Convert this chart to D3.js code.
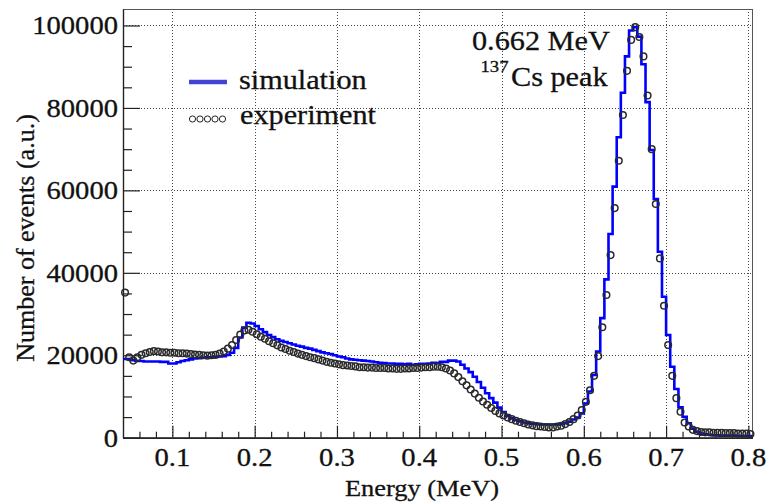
<!DOCTYPE html>
<html><head><meta charset="utf-8">
<script src="https://cdn.jsdelivr.net/npm/d3@7"></script>
<style>body{margin:0;background:#fff} svg{display:block}</style>
</head><body>
<svg id="c" width="769" height="504"></svg>
<script>
// Bin centres (MeV), bin width 0.005 MeV
const energy = [
0.0425,0.0475,0.0525,0.0575,0.0625,0.0675,0.0725,0.0775,0.0825,0.0875,
0.0925,0.0975,0.1025,0.1075,0.1125,0.1175,0.1225,0.1275,0.1325,0.1375,
0.1425,0.1475,0.1525,0.1575,0.1625,0.1675,0.1725,0.1775,0.1825,0.1875,
0.1925,0.1975,0.2025,0.2075,0.2125,0.2175,0.2225,0.2275,0.2325,0.2375,
0.2425,0.2475,0.2525,0.2575,0.2625,0.2675,0.2725,0.2775,0.2825,0.2875,
0.2925,0.2975,0.3025,0.3075,0.3125,0.3175,0.3225,0.3275,0.3325,0.3375,
0.3425,0.3475,0.3525,0.3575,0.3625,0.3675,0.3725,0.3775,0.3825,0.3875,
0.3925,0.3975,0.4025,0.4075,0.4125,0.4175,0.4225,0.4275,0.4325,0.4375,
0.4425,0.4475,0.4525,0.4575,0.4625,0.4675,0.4725,0.4775,0.4825,0.4875,
0.4925,0.4975,0.5025,0.5075,0.5125,0.5175,0.5225,0.5275,0.5325,0.5375,
0.5425,0.5475,0.5525,0.5575,0.5625,0.5675,0.5725,0.5775,0.5825,0.5875,
0.5925,0.5975,0.6025,0.6075,0.6125,0.6175,0.6225,0.6275,0.6325,0.6375,
0.6425,0.6475,0.6525,0.6575,0.6625,0.6675,0.6725,0.6775,0.6825,0.6875,
0.6925,0.6975,0.7025,0.7075,0.7125,0.7175,0.7225,0.7275,0.7325,0.7375,
0.7425,0.7475,0.7525,0.7575,0.7625,0.7675,0.7725,0.7775,0.7825,0.7875,
0.7925,0.7975,0.8025];
const binWidth = 0.005;

const simulation = [
19100,19100,18800,18600,18600,18500,18500,18500,18500,18400,
18400,18000,18000,18300,18600,18800,19000,19200,19300,19400,
19500,19500,19600,19700,19800,20100,20600,21800,24300,26700,
27900,27700,27100,26300,25600,24900,24400,23900,23500,23200,
22900,22600,22300,22100,21800,21600,21300,21000,20700,20500,
20300,20000,19700,19500,19200,19000,18900,18800,18700,18600,
18500,18300,18200,18100,18000,18000,17900,17900,17800,17900,
17700,17800,17900,17900,18000,18200,18100,18400,18400,18700,
18700,18500,17700,16800,15900,14800,13500,12100,10800,9600,
8500,7300,6200,5300,4700,4300,4000,3700,3500,3400,
3300,3200,3200,3200,3200,3200,3300,3500,3900,4400,
4900,5900,8300,11200,15200,20900,29000,38400,49400,60900,
72900,83700,92500,98800,99600,97300,90600,81400,69800,57900,
45100,34200,24900,17200,11800,7400,5100,3500,2200,1400,
1000,800,700,600,600,500,500,500,500,400,
400,400,400];

const experiment = [
35200,19500,18700,19500,20100,20500,20800,21000,20900,20700,
20700,20600,20600,20500,20500,20400,20300,20200,20100,20000,
19900,20000,20100,20400,20900,21600,22500,23700,25000,26000,
26200,25700,25100,24500,24000,23400,22900,22400,21900,21500,
21100,20800,20400,20100,19800,19500,19300,19000,18700,18400,
18200,18000,17800,17600,17500,17400,17300,17100,17100,17000,
17000,16900,16900,16900,16800,16800,16700,16700,16800,16800,
16900,16900,17000,17100,17100,17200,17200,17100,16800,16300,
15600,14700,13700,12700,11700,10700,9700,8800,8000,7200,
6500,5900,5400,4900,4500,4100,3800,3500,3200,3000,
2800,2700,2600,2500,2500,2700,2900,3300,3800,4500,
5400,6700,8700,11500,15000,19800,26800,34600,44300,55700,
67200,78300,89000,96500,99600,97200,92500,83000,70000,56700,
43500,32000,22500,15000,9600,6300,3700,2700,1900,1600,
1400,1300,1300,1200,1200,1200,1100,1100,1100,1000,
1000,1000,900];

const xTicks = [0.1,0.2,0.3,0.4,0.5,0.6,0.7,0.8];
const xTickLabels = ["0.1","0.2","0.3","0.4","0.5","0.6","0.7","0.8"];
const yTicks = [0,20000,40000,60000,80000,100000];
const yTickLabels = ["0","20000","40000","60000","80000","100000"];
const seriesNames = ["simulation","experiment"];
const xTitle = "Energy (MeV)";
const yTitle = "Number of events (a.u.)";
const noteLine1 = "0.662 MeV";
const noteIsotope = "137";
const noteLine2 = "Cs peak";

const svg = d3.select("#c");
const L = 123, R = 752.5, T = 9, B = 437.7;
const x = d3.scaleLinear().domain([0.04, 0.805]).range([L, R]);
const y = d3.scaleLinear().domain([0, 104000]).range([B, T]);
const FONT = "'Liberation Serif','Times New Roman',serif";
const SX = 1.1;

// grid
const grid = svg.append("g").attr("stroke","#444").attr("stroke-width",1).attr("stroke-dasharray","1,2");
xTicks.forEach(t => grid.append("line").attr("x1",Math.round(x(t))+0.5).attr("x2",Math.round(x(t))+0.5).attr("y1",T).attr("y2",B));
yTicks.filter(t=>t>0).forEach(t => grid.append("line").attr("y1",Math.round(y(t))+0.5).attr("y2",Math.round(y(t))+0.5).attr("x1",L).attr("x2",R));

// frame
svg.append("rect").attr("x",L+0.5).attr("y",T+0.5).attr("width",R-L-0.5).attr("height",B-T)
  .attr("fill","none").attr("stroke","#555").attr("stroke-width",1);

// axes with d3
const xMinor = d3.range(0.06, 0.805, 0.02).filter(v => !xTicks.some(t=>Math.abs(t-v)<1e-6));
const yMinor = d3.range(5000, 104000, 5000).filter(v => v % 20000 !== 0);
const axX = d3.axisBottom(x).tickValues(xTicks).tickFormat("").tickSizeInner(-12).tickSizeOuter(0);
const axXm = d3.axisBottom(x).tickValues(xMinor).tickFormat("").tickSizeInner(-6).tickSizeOuter(0);
const axY = d3.axisLeft(y).tickValues(yTicks).tickFormat("").tickSizeInner(-17).tickSizeOuter(0);
const axYm = d3.axisLeft(y).tickValues(yMinor).tickFormat("").tickSizeInner(-9).tickSizeOuter(0);
[[axX,`translate(0,${B})`],[axXm,`translate(0,${B})`],[axY,`translate(${L},0)`],[axYm,`translate(${L},0)`]].forEach(([a,tr])=>{
  const g = svg.append("g").attr("transform",tr).call(a);
  g.selectAll("line").attr("stroke","#222").attr("stroke-width",1.2);
  g.select(".domain").attr("stroke","#222").attr("stroke-width",1.2);
});

function txt(px, py, s, size, anchor){
  return svg.append("g").attr("transform",`translate(${px},${py}) scale(${SX},1)`)
    .append("text").attr("font-family",FONT).attr("font-size",size).attr("fill","#111")
    .attr("stroke","#111").attr("stroke-width",0.3)
    .attr("text-anchor",anchor||"start").text(s);
}
// tick labels
xTicks.forEach((t,i)=> txt(x(t), 466, xTickLabels[i], 26, "middle"));
yTicks.forEach((t,i)=> txt(118, y(t)+9, yTickLabels[i], 26, "end"));

// axis titles
txt(422, 496, xTitle, 24, "middle");
svg.append("text").attr("transform","translate(34,238) rotate(-90)")
  .attr("font-family",FONT).attr("font-size",26).attr("fill","#111")
  .attr("stroke","#111").attr("stroke-width",0.3)
  .attr("text-anchor","middle").text(yTitle);

// simulation step histogram
const stepPts = energy.map((e,i)=>[e-binWidth/2, simulation[i]]);
stepPts.push([energy[energy.length-1]+binWidth/2, simulation[simulation.length-1]]);
const line = d3.line().x(d=>x(d[0])).y(d=>y(d[1])).curve(d3.curveStepAfter);
svg.append("path").attr("d",line(stepPts)).attr("fill","none").attr("stroke","#0000ff").attr("stroke-width",2.6);

// experiment markers
svg.append("g").selectAll("circle").data(energy).join("circle")
  .attr("cx",(d)=>x(d)).attr("cy",(d,i)=>y(experiment[i])).attr("r",3.3)
  .attr("fill","none").attr("stroke","#2a2a2a").attr("stroke-width",1.5);

// legend
svg.append("line").attr("x1",189).attr("x2",227).attr("y1",82).attr("y2",82).attr("stroke","#4444d4").attr("stroke-width",4.5);
txt(239, 89, seriesNames[0], 27.5);
d3.range(5).forEach(k => svg.append("circle").attr("cx",192.5+k*7.5).attr("cy",119).attr("r",3.1)
  .attr("fill","none").attr("stroke","#222").attr("stroke-width",1));
txt(240, 124, seriesNames[1], 27.5);

// annotation
txt(472, 50, noteLine1, 27.5);
txt(508.5, 72, noteIsotope, 17, "end");
txt(511, 86, noteLine2, 27.5);
</script>
</body></html>
